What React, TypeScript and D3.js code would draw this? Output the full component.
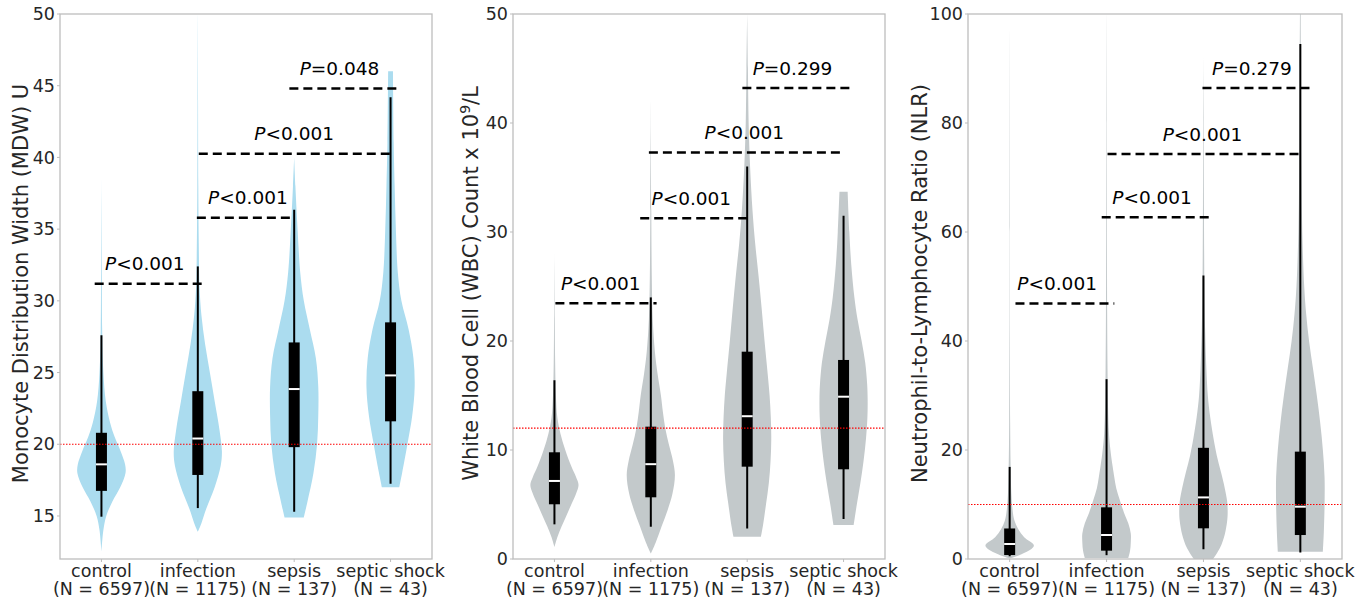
import React from 'react';
import * as d3 from "d3";

const width = 1370;
const height = 602;
const plotTop = 14;
const plotBottom = 559;

const categories = ["control", "infection", "sepsis", "septic shock"];
const counts = [6597, 1175, 137, 43];

// violin outlines: [value, relative half width]
const mdwViolins: [number, number][][] = [
  [[12.5, 0], [14, 0.08], [15, 0.2], [16, 0.45], [17, 0.78], [18, 1], [18.6, 0.98], [19.5, 0.8], [20.5, 0.55], [21.5, 0.36], [23, 0.18], [25, 0.08], [28, 0.03], [32, 0.015], [38.5, 0]],
  [[13.9, 0], [14.5, 0.15], [15.5, 0.35], [17, 0.7], [18.5, 0.95], [19.5, 1], [21, 0.9], [23, 0.7], [25, 0.5], [27, 0.3], [29, 0.15], [31, 0.07], [34, 0.04], [38, 0.02], [44, 0.01], [50, 0]],
  [[14.9, 0.4], [16, 0.55], [18, 0.8], [20, 0.95], [22, 1], [24, 1], [26, 0.9], [28, 0.65], [30, 0.4], [32, 0.25], [35, 0.14], [38, 0.05], [40, 0]],
  [[17, 0.36], [18, 0.48], [20, 0.7], [22, 0.9], [24, 1], [26, 0.95], [28, 0.75], [30, 0.45], [32, 0.3], [35, 0.22], [38, 0.17], [41, 0.13], [46, 0.1]],
];
const wbcViolins: [number, number][][] = [
  [[1.1, 0], [2, 0.12], [3, 0.3], [4, 0.5], [5, 0.7], [6, 0.9], [6.8, 1], [7.5, 0.9], [8.5, 0.7], [10, 0.45], [11.5, 0.25], [13, 0.12], [15, 0.06], [18, 0.03], [22, 0.015], [28, 0]],
  [[0.5, 0], [1.5, 0.2], [3, 0.45], [4.5, 0.7], [6, 0.9], [7.7, 1], [9, 0.92], [10.5, 0.75], [12, 0.6], [13.5, 0.5], [15, 0.42], [17, 0.28], [19, 0.17], [22, 0.08], [26, 0.04], [32, 0.02], [42, 0]],
  [[2.05, 0.57], [3, 0.65], [5, 0.78], [7, 0.9], [9, 0.97], [11, 1], [13, 0.98], [15, 0.93], [17, 0.85], [20, 0.72], [23, 0.6], [26, 0.47], [29, 0.33], [32, 0.22], [36, 0.12], [40, 0.06], [45, 0.03], [50, 0]],
  [[3.12, 0.42], [5, 0.55], [7, 0.7], [9, 0.83], [11, 0.93], [13, 0.99], [14.6, 1], [16, 0.98], [18, 0.9], [20, 0.75], [22, 0.58], [24, 0.45], [27, 0.32], [30, 0.24], [33.7, 0.17]],
];
const nlrViolins: [number, number][][] = [
  [[0.1, 0], [1, 0.55], [2.45, 1], [4, 0.6], [5.5, 0.35], [7, 0.2], [9, 0.12], [12, 0.07], [17, 0.04], [25, 0.02], [40, 0.01], [60, 0.005], [97, 0]],
  [[0.2, 0.9], [1.5, 0.97], [3, 1], [4.7, 1], [6.5, 0.9], [8.5, 0.72], [10.8, 0.55], [13, 0.4], [15, 0.32], [17, 0.25], [20, 0.16], [23, 0.1], [28, 0.06], [35, 0.04], [45, 0.025], [60, 0.015], [80, 0.008], [100, 0]],
  [[0, 0.4], [2, 0.68], [4.5, 0.88], [7, 0.98], [8.5, 1], [10.5, 0.98], [13, 0.88], [16, 0.72], [19, 0.55], [22, 0.42], [26, 0.28], [30, 0.18], [35, 0.12], [42, 0.07], [50, 0.04], [65, 0.02], [80, 0.01], [92, 0]],
  [[1.35, 0.93], [5, 0.97], [10, 1], [15, 1], [20, 0.93], [25, 0.82], [30, 0.68], [35, 0.52], [40, 0.36], [45, 0.24], [50, 0.16], [60, 0.08], [70, 0.05], [80, 0.035], [90, 0.025], [100, 0.015]],
];

// box stats: [whisker low, q1, median, q3, whisker high]
const mdwBoxes = [[14.95, 16.75, 18.6, 20.8, 27.6], [15.55, 17.86, 20.4, 23.7, 32.4], [15.3, 19.8, 23.85, 27.1, 36.35], [17.25, 21.6, 24.8, 28.5, 44.2]];
const wbcBoxes = [[3.18, 5.02, 7.16, 9.79, 16.4], [2.96, 5.66, 8.7, 12.14, 24], [2.8, 8.47, 13.1, 19.02, 36], [3.67, 8.23, 14.89, 18.26, 31.5]];
const nlrBoxes = [[0.5, 0.73, 2.75, 5.6, 16.9], [0.7, 1.53, 4.4, 9.48, 33], [1.77, 5.63, 11.3, 20.4, 52], [1.2, 4.4, 9.6, 19.7, 94.5]];

// significance brackets: [from, to, value, label x, text]
const mdwBrackets: [number, number, number, number, string][] = [
  [-0.07, 1.04, 31.2, 0.45, "<0.001"], [0.99, 1.96, 35.8, 1.52, "<0.001"], [1.01, 3.0, 40.25, 2.0, "<0.001"], [1.95, 3.06, 44.8, 2.47, "=0.048"],
];
const wbcBrackets: [number, number, number, number, string][] = [
  [0.01, 1.06, 23.46, 0.48, "<0.001"], [0.89, 2.01, 31.26, 1.42, "<0.001"], [0.98, 2.99, 37.3, 1.97, "<0.001"], [1.95, 3.07, 43.2, 2.47, "=0.299"],
];
const nlrBrackets: [number, number, number, number, string][] = [
  [0.06, 1.08, 46.9, 0.49, "<0.001"], [0.95, 2.07, 62.7, 1.47, "<0.001"], [1.01, 3.01, 74.3, 1.99, "<0.001"], [1.99, 3.11, 86.4, 2.5, "=0.279"],
];

const mdwTicks = [15, 20, 25, 30, 35, 40, 45, 50];
const wbcTicks = [0, 10, 20, 30, 40, 50];
const nlrTicks = [0, 20, 40, 60, 80, 100];

const font = "DejaVu Sans";

const Panel = ({ id, left, right, domain, ticks, violins, boxes, brackets, fill, refValue, labelX, label }: any) => {
  const y = d3.scaleLinear().domain(domain).range([plotBottom, plotTop]);
  const x = d3.scaleLinear().domain([-0.43, 3.43]).range([left, right]);
  const halfW = x(0.25) - x(0);

  return (
    <g>
      <defs>
        <clipPath id={`clip-${id}`}>
          <rect x={left} y={plotTop} width={right - left} height={plotBottom - plotTop} />
        </clipPath>
      </defs>
      <g clipPath={`url(#clip-${id})`}>
        {violins.map((v: [number, number][], i: number) => {
          const cx = x(i);
          const area = d3.area<[number, number]>()
            .y(d => y(d[0]))
            .x0(d => cx - d[1] * halfW)
            .x1(d => cx + d[1] * halfW)
            .curve(d3.curveCatmullRom.alpha(0.5));
          return <path key={i} d={area(v) || ""} fill={fill} />;
        })}
        {boxes.map((b: number[], i: number) => {
          const cx = x(i);
          return (
            <g key={i}>
              <line x1={cx} x2={cx} y1={y(b[0])} y2={y(b[4])} stroke="black" strokeWidth={2} />
              <rect x={cx - 5.5} width={11} y={y(b[3])} height={y(b[1]) - y(b[3])} fill="black" />
              <line x1={cx - 5.5} x2={cx + 5.5} y1={y(b[2])} y2={y(b[2])} stroke="white" strokeWidth={2} />
            </g>
          );
        })}
        <line x1={left} x2={right} y1={y(refValue)} y2={y(refValue)} stroke="red" strokeWidth={1.2} strokeDasharray="1.5,1.5" />
      </g>
      {brackets.map((b: [number, number, number, number, string], i: number) => (
        <g key={i}>
          <line x1={x(b[0])} x2={x(b[1])} y1={y(b[2])} y2={y(b[2])} stroke="black" strokeWidth={2.5} strokeDasharray="9,5" />
          <text x={x(b[3])} y={y(b[2]) - 13.5} textAnchor="middle" fontSize={18.5} fontFamily={font} fill="black">
            <tspan fontStyle="italic">P</tspan>{b[4]}
          </text>
        </g>
      ))}
      <rect x={left} y={plotTop} width={right - left} height={plotBottom - plotTop} fill="none" stroke="#bdbdbd" strokeWidth={1.3} />
      {ticks.map((t: number) => (
        <g key={t}>
          <line x1={left - 3} x2={left} y1={y(t)} y2={y(t)} stroke="#bdbdbd" />
          <text x={left - 5} y={y(t)} dy="0.35em" textAnchor="end" fontSize={17.5} fontFamily={font} fill="#262626">{t}</text>
        </g>
      ))}
      {categories.map((c, i) => (
        <g key={c}>
          <line x1={x(i)} x2={x(i)} y1={plotBottom} y2={plotBottom + 3} stroke="#bdbdbd" />
          <text x={x(i)} y={577} textAnchor="middle" fontSize={17.5} fontFamily={font} fill="#262626">{c}</text>
          <text x={x(i)} y={595} textAnchor="middle" fontSize={17.5} fontFamily={font} fill="#262626">{`(N = ${counts[i]})`}</text>
        </g>
      ))}
      <text transform={`translate(${labelX},${(plotTop + plotBottom) / 2 - 3}) rotate(-90)`} textAnchor="middle" dy="0.35em" fontSize={21} fontFamily={font} fill="#262626">
        {label}
      </text>
    </g>
  );
};

const App = () => {
  return (
    <svg width={width} height={height} style={{ position: "absolute", left: 0, top: 0, background: "white" }}>
      <Panel id="mdw" left={60} right={432} domain={[12, 50]} ticks={mdwTicks} violins={mdwViolins} boxes={mdwBoxes}
        brackets={mdwBrackets} fill="#abdcef" refValue={20} labelX={21}
        label="Monocyte Distribution Width (MDW) U" />
      <Panel id="wbc" left={513} right={885} domain={[0, 50]} ticks={wbcTicks} violins={wbcViolins} boxes={wbcBoxes}
        brackets={wbcBrackets} fill="#c3c9cb" refValue={12} labelX={471}
        label={<>White Blood Cell (WBC) Count x 10<tspan fontSize={14} dy="-8">9</tspan><tspan dy="8">/L</tspan></>} />
      <Panel id="nlr" left={968} right={1342} domain={[0, 100]} ticks={nlrTicks} violins={nlrViolins} boxes={nlrBoxes}
        brackets={nlrBrackets} fill="#c3c9cb" refValue={10} labelX={920}
        label="Neutrophil-to-Lymphocyte Ratio (NLR)" />
    </svg>
  );
};

export default App;
